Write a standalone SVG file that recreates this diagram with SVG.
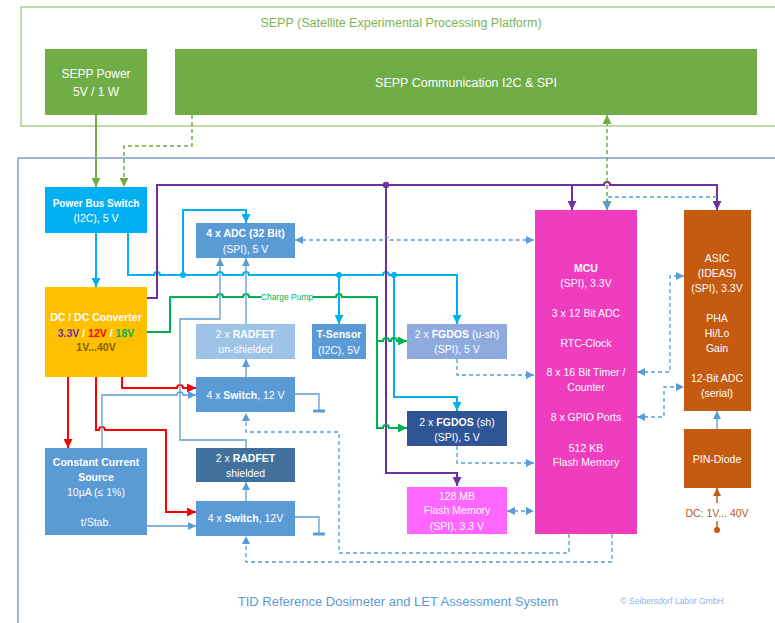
<svg xmlns="http://www.w3.org/2000/svg" width="775" height="623" viewBox="0 0 775 623">
<style>
text{font-family:"Liberation Sans",Arial,sans-serif;font-size:10.5px;fill:#fff;text-anchor:middle}
.b{font-weight:bold}
.c{fill:none;stroke-linejoin:miter}
.bus{stroke:#00b0f0;stroke-width:2}
.pur{stroke:#7030a0;stroke-width:2}
.grn{stroke:#00b050;stroke-width:2}
.red{stroke:#ff0000;stroke-width:2}
.thin{stroke:#5b9bd5;stroke-width:1.3}
.dash{stroke:#5b9bd5;stroke-width:1.3;stroke-dasharray:4 3}
.lg{stroke:#70ad47;stroke-width:2}
.lgd{stroke:#70ad47;stroke-width:1.5;stroke-dasharray:4 3}
.or{stroke:#c55a11;stroke-width:1.5}
</style>
<defs>
<marker id="mBus" viewBox="0 0 10 10" refX="10" refY="5" markerUnits="userSpaceOnUse" markerWidth="9" markerHeight="9" orient="auto-start-reverse"><path d="M0,0 L10,5 L0,10 z" fill="#00b0f0"/></marker>
<marker id="mThin" viewBox="0 0 10 10" refX="10" refY="5" markerUnits="userSpaceOnUse" markerWidth="8" markerHeight="8" orient="auto-start-reverse"><path d="M0,0 L10,5 L0,10 z" fill="#5b9bd5"/></marker>
<marker id="mPur" viewBox="0 0 10 10" refX="10" refY="5" markerUnits="userSpaceOnUse" markerWidth="9" markerHeight="9" orient="auto-start-reverse"><path d="M0,0 L10,5 L0,10 z" fill="#7030a0"/></marker>
<marker id="mGrn" viewBox="0 0 10 10" refX="10" refY="5" markerUnits="userSpaceOnUse" markerWidth="9" markerHeight="9" orient="auto-start-reverse"><path d="M0,0 L10,5 L0,10 z" fill="#00b050"/></marker>
<marker id="mRed" viewBox="0 0 10 10" refX="10" refY="5" markerUnits="userSpaceOnUse" markerWidth="9" markerHeight="9" orient="auto-start-reverse"><path d="M0,0 L10,5 L0,10 z" fill="#ff0000"/></marker>
<marker id="mLg" viewBox="0 0 10 10" refX="10" refY="5" markerUnits="userSpaceOnUse" markerWidth="9" markerHeight="9" orient="auto-start-reverse"><path d="M0,0 L10,5 L0,10 z" fill="#70ad47"/></marker>
<marker id="mOr" viewBox="0 0 10 10" refX="10" refY="5" markerUnits="userSpaceOnUse" markerWidth="8" markerHeight="8" orient="auto-start-reverse"><path d="M0,0 L10,5 L0,10 z" fill="#c55a11"/></marker>
</defs>
<rect width="775" height="623" fill="#fff"/>

<g id="frames">
<rect x="21" y="7" width="780" height="119" fill="none" stroke="#a9d18e" stroke-width="1.5"/>
<text x="401" y="27" style="font-size:12.5px;fill:#7ab650">SEPP (Satellite Experimental Processing Platform)</text>
<rect x="18" y="158" width="790" height="500" fill="none" stroke="#5a8ac6" stroke-width="1.2"/>
<text x="398" y="606" style="font-size:13px;fill:#5b9bd5">TID Reference Dosimeter and LET Assessment System</text>
<text x="672" y="604" style="font-size:8.5px;fill:#8eb4e3">© Seibersdorf Labor GmbH</text>
</g>

<g id="sepp-power"><rect x="45" y="49" width="102" height="66" fill="#70ad47"/>
<text x="96" y="78" style="font-size:12px">SEPP Power</text><text x="96" y="96" style="font-size:12px">5V / 1 W</text></g>
<g id="sepp-comm"><rect x="175" y="49" width="582" height="66" fill="#70ad47"/>
<text x="466" y="87" style="font-size:12.5px">SEPP Communication I2C &amp; SPI</text></g>

<g id="pbs"><rect x="45" y="187" width="102" height="46" fill="#00b0f0"/>
<text x="96" y="207" class="b" style="font-size:10px">Power Bus Switch</text><text x="96" y="222">(I2C), 5 V</text></g>
<g id="dcdc"><rect x="45" y="287" width="102" height="90" fill="#ffc000"/>
<text x="96" y="321" class="b">DC / DC Converter</text>
<text x="96" y="337" class="b"><tspan fill="#7030a0">3.3V</tspan> / <tspan fill="#ff0000">12V</tspan> / <tspan fill="#00b050">18V</tspan></text>
<text x="96" y="351" class="b" style="fill:#7f6000">1V...40V</text></g>
<g id="ccs"><rect x="45" y="448" width="102" height="87" fill="#5b9bd5"/>
<text x="96" y="466" class="b">Constant Current</text><text x="96" y="481" class="b">Source</text>
<text x="96" y="496">10µA (≤ 1%)</text><text x="96" y="526">t/Stab.</text></g>

<g id="adc"><rect x="196" y="223" width="99" height="35" fill="#5b9bd5"/>
<text x="245.5" y="237" class="b">4 x ADC (32 Bit)</text><text x="245.5" y="253">(SPI), 5 V</text></g>
<g id="radfet-un"><rect x="196" y="324" width="99" height="35" fill="#9dc3e6"/>
<text x="245.5" y="338">2 x <tspan class="b">RADFET</tspan></text><text x="245.5" y="353">un-shielded</text></g>
<g id="tsensor"><rect x="312" y="324" width="54" height="35" fill="#5b9bd5"/>
<text x="339" y="338" class="b">T-Sensor</text><text x="339" y="354">(I2C), 5V</text></g>
<g id="switch1"><rect x="196" y="377" width="99" height="35" fill="#5b9bd5"/>
<text x="245.5" y="399">4 x <tspan class="b">Switch</tspan>, 12 V</text></g>
<g id="radfet-sh"><rect x="196" y="448" width="99" height="34" fill="#41719c"/>
<text x="245.5" y="462">2 x <tspan class="b">RADFET</tspan></text><text x="245.5" y="477">shielded</text></g>
<g id="switch2"><rect x="196" y="501" width="99" height="35" fill="#5b9bd5"/>
<text x="245.5" y="522">4 x <tspan class="b">Switch</tspan>, 12V</text></g>

<g id="fgdos-ush"><rect x="407" y="324" width="100" height="35" fill="#8faadc"/>
<text x="457" y="338">2 x <tspan class="b">FGDOS</tspan> (u-sh)</text><text x="457" y="353">(SPI), 5 V</text></g>
<g id="fgdos-sh"><rect x="407" y="411" width="100" height="35" fill="#2f5597"/>
<text x="457" y="426">2 x <tspan class="b">FGDOS</tspan> (sh)</text><text x="457" y="441">(SPI), 5 V</text></g>
<g id="flash"><rect x="407" y="487" width="100" height="47" fill="#ff66ff"/>
<text x="457" y="500">128 MB</text><text x="457" y="514">Flash Memory</text><text x="457" y="530">(SPI), 3.3 V</text></g>

<g id="mcu"><rect x="535" y="210" width="102" height="324" fill="#f03cbe"/>
<text x="586" y="272" class="b">MCU</text><text x="586" y="287">(SPI), 3.3V</text>
<text x="586" y="317">3 x 12 Bit ADC</text><text x="586" y="347">RTC-Clock</text>
<text x="586" y="376">8 x 16 Bit Timer /</text><text x="586" y="391">Counter</text>
<text x="586" y="421">8 x GPIO Ports</text><text x="586" y="452">512 KB</text><text x="586" y="466">Flash Memory</text></g>

<g id="asic"><rect x="684" y="210" width="67" height="201" fill="#c55a11"/>
<text x="717" y="262">ASIC</text><text x="717" y="277">(IDEAS)</text><text x="717" y="292">(SPI), 3.3V</text>
<text x="717" y="322">PHA</text><text x="717" y="337">Hi/Lo</text><text x="717" y="352">Gain</text>
<text x="717" y="382">12-Bit ADC</text><text x="717" y="397">(serial)</text></g>
<g id="pin"><rect x="684" y="429" width="67" height="59" fill="#c55a11"/>
<text x="717" y="463">PIN-Diode</text></g>
<g id="dc-label"><text x="717" y="517" style="fill:#b85a1e">DC: 1V... 40V</text></g>

<g id="connectors">
<path class="c lg" d="M96,115 V187" marker-end="url(#mLg)"/>
<path class="c lgd" d="M192,115 V146 H124 V187" marker-end="url(#mLg)"/>
<path class="c bus" d="M96,233 V287" marker-end="url(#mBus)"/>
<path class="c bus" d="M128,233 V275 H154 a3,3 0 0 1 6,0 H217 a3,3 0 0 1 6,0 H243 a3,3 0 0 1 6,0 H383 a3,3 0 0 1 6,0 H457 V324" marker-end="url(#mBus)"/>
<path class="c bus" d="M183,275 V210 H246 V223" marker-end="url(#mBus)"/>
<path class="c bus" d="M339,275 V324" marker-end="url(#mBus)"/>
<path class="c bus" d="M394,275 V397 H457 V411" marker-end="url(#mBus)"/>
<circle cx="183" cy="275" r="3" fill="#00b0f0"/>
<circle cx="339" cy="275" r="3" fill="#00b0f0"/>
<circle cx="394" cy="275" r="3" fill="#00b0f0"/>

<path class="c pur" d="M147,298 H157 V185 H604 a3,3 0 0 1 6,0 H717 V210" marker-end="url(#mPur)"/>
<path class="c pur" d="M572,185 V210" marker-end="url(#mPur)"/>
<path class="c pur" d="M386,185 V473 H457 V486" marker-end="url(#mPur)"/>
<circle cx="386" cy="185" r="3.2" fill="#7030a0"/>

<path class="c grn" d="M147,332 H170 V297 H217 a3,3 0 0 1 6,0 H243 a3,3 0 0 1 6,0 H261"/>
<path class="c grn" d="M313,297 H336 a3,3 0 0 1 6,0 H377 V428 H383 a3,3 0 0 1 6,0 H407" marker-end="url(#mGrn)"/>
<path class="c grn" d="M377,341 H383 a3,3 0 0 1 6,0 H391 a3,3 0 0 1 6,0 H407" marker-end="url(#mGrn)"/>
<text x="287" y="300" style="font-size:8.5px;fill:#00b050">Charge Pump</text>

<path class="c red" d="M122,377 V388 H177 a3,3 0 0 1 6,0 H196" marker-end="url(#mRed)"/>
<path class="c red" d="M96,377 V430 H99 a3,3 0 0 1 6,0 H166 V512 H196" marker-end="url(#mRed)"/>
<path class="c red" d="M68,377 V448" marker-end="url(#mRed)"/>

<path class="c thin" d="M102,448 V395 H177 a3,3 0 0 1 6,0 H196" marker-end="url(#mThin)"/>
<path class="c thin" d="M147,526 H196" marker-end="url(#mThin)"/>
<path class="c thin" d="M246,377 V359" marker-end="url(#mThin)"/>
<path class="c thin" d="M246,324 V258" marker-end="url(#mThin)"/>
<path class="c thin" d="M246,501 V482" marker-end="url(#mThin)"/>
<path class="c thin" d="M246,448 V440 H180 V319 H220 V258" marker-end="url(#mThin)"/>
<path class="c thin" d="M295,394 H319 V411 M295,517 H319 V534"/>
<path class="c" stroke="#5b9bd5" stroke-width="3" d="M313,411 H325 M313,534 H325"/>
<path class="c thin" d="M717,429 V411" marker-end="url(#mThin)"/>

<path class="c dash" d="M295,240 H383 a3,3 0 0 1 6,0 H534" marker-start="url(#mThin)" marker-end="url(#mThin)"/>
<path class="c dash" d="M457,359 V375 H534" marker-end="url(#mThin)"/>
<path class="c dash" d="M457,446 V463 H534" marker-end="url(#mThin)"/>
<path class="c dash" d="M507,511 H534" marker-start="url(#mThin)" marker-end="url(#mThin)"/>
<path class="c dash" d="M569,534 V553 H339 V432 H246 V413" marker-end="url(#mThin)"/>
<path class="c dash" d="M612,534 V562 H246 V536" marker-end="url(#mThin)"/>
<path class="c dash" d="M637,372 H670 V276 H684" marker-start="url(#mThin)" marker-end="url(#mThin)"/>
<path class="c dash" d="M637,417 H664 V387 H684" marker-start="url(#mThin)" marker-end="url(#mThin)"/>
<path class="c lgd" d="M607,115 V210" marker-start="url(#mLg)" marker-end="url(#mLg)"/>
<path class="c dash" d="M717,197 H607 V210" marker-end="url(#mThin)"/>

<path class="c or" d="M717,503 V488" marker-end="url(#mOr)"/>
<path class="c or" d="M717,521 V530"/>
<circle cx="717" cy="530" r="3" fill="#c55a11"/>
</g>
</svg>
